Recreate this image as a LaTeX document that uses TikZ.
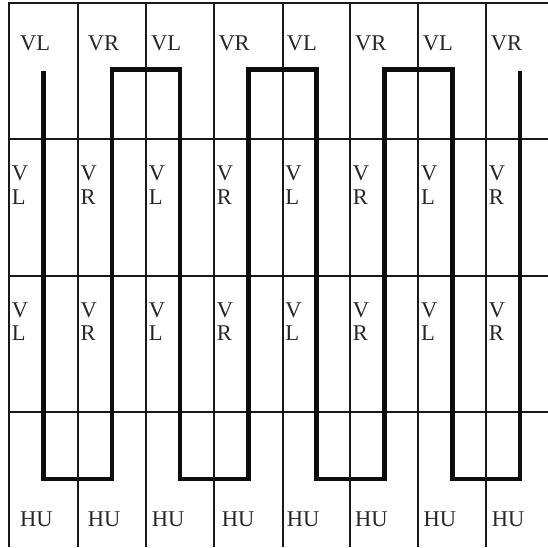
\documentclass[tikz,border=0pt]{standalone}
\usepackage{fontspec}
\setmainfont{Liberation Serif}
\begin{document}
\begin{tikzpicture}[x=1pt,y=-1pt,
  gridline/.style={line width=2pt, draw=black!90},
  wire/.style={line width=4.8pt, line join=miter, draw=black!95},
  lbl/.style={inner sep=0pt, anchor=base west, font=\fontsize{22.5}{23.3}\selectfont, text=black!85},
  vlbl/.style={inner sep=0pt, anchor=north west, align=left, font=\fontsize{22.5}{23.3}\selectfont, text=black!85}]
\useasboundingbox (0,0) rectangle (548,547);
% grid
\foreach \x [count=\i] in {9,77.7,146,214,282.5,350,418.3,486}
  \draw[gridline] (\x,2.7) -- (\x,547);
\foreach \y in {2.7,139.3,275.6,411.7}
  \draw[gridline] (8,\y) -- (548,\y);
% meander wire
\coordinate (w0) at (43.4,71);
\coordinate (w1) at (43.4,479);
\coordinate (w2) at (111.9,479);
\coordinate (w3) at (111.9,69.5);
\coordinate (w4) at (180,69.5);
\coordinate (w5) at (180,479);
\coordinate (w6) at (248.3,479);
\coordinate (w7) at (248.3,69.5);
\coordinate (w8) at (316.3,69.5);
\coordinate (w9) at (316.3,479);
\coordinate (w10) at (384.2,479);
\coordinate (w11) at (384.2,69.5);
\coordinate (w12) at (452.2,69.5);
\coordinate (w13) at (452.2,479);
\coordinate (w14) at (520,479);
\coordinate (w15) at (520,71);
\draw[wire] (w0) -- (w1) -- (w2) -- (w3) -- (w4) -- (w5) -- (w6) -- (w7) -- (w8)
  -- (w9) -- (w10) -- (w11) -- (w12) -- (w13) -- (w14) -- (w15);
% top labels
\foreach \x/\t [count=\i] in {20/VL,87.7/VR,151/VL,218.3/VR,286.7/VL,355/VR,422.7/VL,490.7/VR}
  \node[lbl] (top\i) at (\x,50) {\t};
% stacked labels
\foreach \x/\t [count=\i] in {11.7/L,80.4/R,148.7/L,216.7/R,285.2/L,352.7/R,421/L,488.7/R}{
  \node[vlbl] (ma\i) at (\x,166) {V\\\t};
  \node[vlbl] (mb\i) at (\x,302.6) {V\\\t};
}
% bottom labels
\foreach \x [count=\i] in {20,87.7,151.7,221.7,286.7,355,423.3,491.7}
  \node[lbl] (hu\i) at (\x,526.5) {HU};
\end{tikzpicture}
\end{document}
